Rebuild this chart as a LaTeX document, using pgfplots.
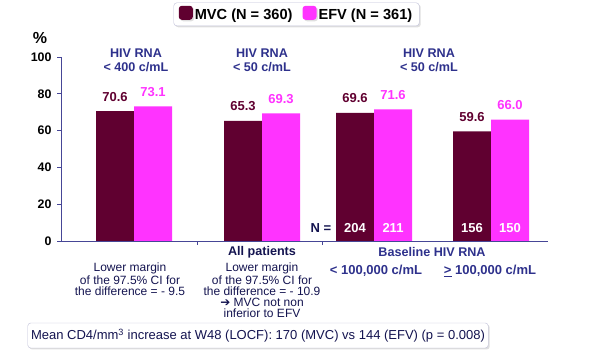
\documentclass[border=0pt]{standalone}
\usepackage{pgfplots}
\pgfplotsset{compat=1.18}
\usepackage{fontspec}
\setmainfont{Liberation Sans}
\usetikzlibrary{shadows}
\definecolor{mvc}{RGB}{96,0,48}
\definecolor{efv}{RGB}{255,51,255}
\definecolor{hdr}{RGB}{46,49,140}
\definecolor{axc}{RGB}{70,70,150}
\definecolor{txt}{RGB}{20,20,80}
\definecolor{boxc}{RGB}{190,190,215}
\newcommand{\fs}[1]{\fontsize{#1bp}{#1bp}\selectfont}
\begin{document}
\begin{tikzpicture}
\path[use as bounding box] (0,0) rectangle (600bp,354bp);
\begin{axis}[
  at={(61bp,113bp)}, anchor=south west,
  scale only axis, width=487bp, height=184bp,
  xmin=61, xmax=548, ymin=0, ymax=100,
  axis x line=bottom, axis y line=left,
  axis line style={axc, line width=1pt, -},
  xtick={197,322}, xticklabels={},
  ytick={0,20,40,60,80,100},
  tick align=outside, major tick length=4bp,
  tick style={axc, line width=0.8pt},
  /pgf/number format/assume math mode=true,
  yticklabel style={font=\fs{12.4}\bfseries, text=black, xshift=-2bp},
  ybar, bar width=38,
  clip=false,
  nodes near coords,
  every node near coord/.append style={font=\fs{13}\bfseries, anchor=base, yshift=10bp, inner sep=0pt,
     /pgf/number format/fixed, /pgf/number format/fixed zerofill, /pgf/number format/precision=1},
  legend columns=2,
  legend style={at={(0.4836,1.232)}, anchor=center, draw=boxc, rounded corners=3pt,
     font=\fs{14.6}\bfseries, fill=white, drop shadow={opacity=0.25, shadow xshift=1.5pt, shadow yshift=-1.5pt},
     /tikz/every even column/.append style={column sep=8bp}, inner xsep=5bp, inner ysep=3bp},
  legend image code/.code={\fill[#1] (0bp,-5bp) rectangle (14bp,9bp);},
]
\addplot+[bar shift=-19, fill=mvc, draw=none, every node near coord/.append style={text=mvc}]
  coordinates {(134,70.6) (262,65.3) (374,69.6) (491,59.6)};
\addplot+[bar shift=19, fill=efv, draw=none, every node near coord/.append style={text=efv}]
  coordinates {(134,73.1) (262,69.3) (374,71.6) (491,66.0)};
\legend{MVC (N = 360), EFV (N = 361)}
\node[font=\fs{13}\bfseries, text=white] at (axis cs:355,7) {204};
\node[font=\fs{13}\bfseries, text=white] at (axis cs:393,7) {211};
\node[font=\fs{13}\bfseries, text=white] at (axis cs:472,7) {156};
\node[font=\fs{13}\bfseries, text=white] at (axis cs:510,7) {150};
\node[font=\fs{13}\bfseries, text=txt] at (axis cs:321,7) {N =};
\end{axis}
% percent sign
\node[font=\fs{16}\bfseries] at (40bp,316bp) {\%};
% headers
\node[font=\fs{12.6}\bfseries, text=hdr, align=center] at (136bp,293.5bp) {HIV RNA\\[1bp]< 400 c/mL};
\node[font=\fs{12.6}\bfseries, text=hdr, align=center] at (262bp,293.5bp) {HIV RNA\\[1bp]< 50 c/mL};
\node[font=\fs{12.6}\bfseries, text=hdr, align=center] at (429bp,293.5bp) {HIV RNA\\[1bp]< 50 c/mL};
% below axis
\node[font=\fs{12}, text=txt, align=center, anchor=north, inner sep=0pt, execute at begin node={\baselineskip=11bp}] at (130bp,91bp) {Lower margin\\of the 97.5\% CI for\\the difference = - 9.5};
\node[font=\fs{12.6}\bfseries, text=txt] at (262bp,102bp) {All patients};
\node[font=\fs{12}, text=txt, align=center, anchor=north, inner sep=0pt, execute at begin node={\baselineskip=11bp}] at (262bp,91bp) {Lower margin\\of the 97.5\% CI for\\the difference = - 10.9\\{\fontspec{DejaVu Sans}\fs{12}➔} MVC not non\\inferior to EFV};
\node[font=\fs{12.6}\bfseries, text=hdr] at (432bp,102bp) {Baseline HIV RNA};
\node[font=\fs{13}\bfseries, text=hdr] at (376bp,83bp) {< 100,000 c/mL};
\node[font=\fs{13}\bfseries, text=hdr] at (490bp,83bp) {\underline{>} 100,000 c/mL};
% bottom box
\node[draw=boxc, rounded corners=3pt, fill=white, drop shadow={opacity=0.25, shadow xshift=1.5pt, shadow yshift=-1.5pt},
  minimum width=450bp, minimum height=25bp, font=\fs{13}, text=txt] at (258bp,18.5bp)
  {Mean CD4/mm\textsuperscript{3} increase at W48 (LOCF): 170 (MVC) vs 144 (EFV) (p = 0.008)};
\end{tikzpicture}
\end{document}
